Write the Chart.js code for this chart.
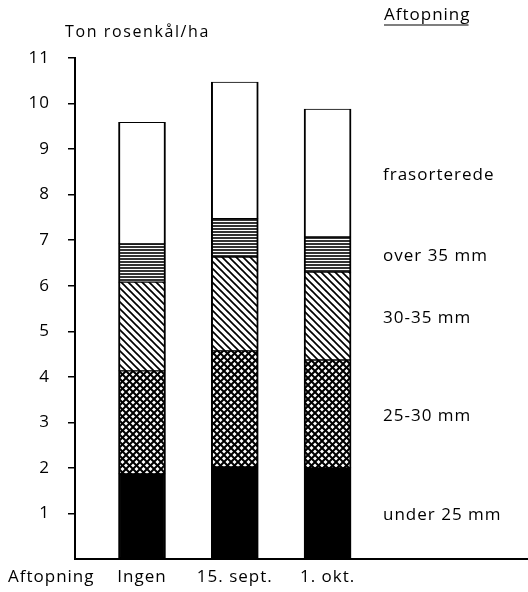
<!DOCTYPE html>
<html>
<head>
<meta charset="utf-8">
<script src="https://cdn.jsdelivr.net/npm/chart.js@4/dist/chart.umd.min.js"></script>
<style>
    html, body { margin: 0; padding: 0; background: #fff; }
    canvas { display: block; }
</style>
</head>
<body>
<canvas id="chart" width="528" height="592"></canvas>
<script>
// Data
const categories = ['Ingen', '15. sept.', '1. okt.'];
const seriesNames = ['under 25 mm', '25-30 mm', '30-35 mm', 'over 35 mm', 'frasorterede'];
const under25 = [1.87, 2.02, 2.00];
const mm25to30 = [2.26, 2.55, 2.37];
const mm30to35 = [1.95, 2.06, 1.93];
const over35 = [0.84, 0.84, 0.77];
const frasorterede = [2.67, 3.00, 2.81];
const yMax = 11;

const FONT = "'Open Sans', 'DejaVu Sans', sans-serif";
const INK = '#000';

function makePattern(kind) {
    const c = document.createElement('canvas');
    const s = kind === 'horiz' ? 3 : 7;
    c.width = s; c.height = s;
    const g = c.getContext('2d');
    g.fillStyle = '#fff';
    g.fillRect(0, 0, s, s);
    g.strokeStyle = INK;
    g.lineCap = 'square';
    if (kind === 'horiz') {
        g.lineWidth = 1.6;
        g.beginPath(); g.moveTo(0, 1); g.lineTo(s, 1); g.stroke();
    } else {
        g.lineWidth = kind === 'cross' ? 2 : 1.7;
        for (const k of [-s, 0, s]) {
            g.beginPath(); g.moveTo(k, 0); g.lineTo(k + s, s); g.stroke();
            if (kind === 'cross') {
                g.beginPath(); g.moveTo(k + s, 0); g.lineTo(k, s); g.stroke();
            }
        }
    }
    return g.createPattern(c, 'repeat');
}

const fills = [INK, makePattern('cross'), makePattern('diag'), makePattern('horiz'), '#fff'];
const seriesValues = [under25, mm25to30, mm30to35, over35, frasorterede];

const datasets = seriesValues.map((vals, i) => ({
    label: seriesNames[i],
    data: vals.map((v, j) => ({ x: j + 1, y: v })),
    backgroundColor: fills[i],
    borderColor: INK,
    borderWidth: { top: 1, bottom: 1, left: 2, right: 2 },
    borderSkipped: false,
    barThickness: 47
}));

// labels on the right, at the middle of each segment of the last bar, plus free texts
const textPlugin = {
    id: 'texts',
    beforeDraw(chart) {
        chart.ctx.letterSpacing = '1px';
    },
    afterDraw(chart) {
        const ctx = chart.ctx;
        const y = chart.scales.y;
        const last = categories.length - 1;
        ctx.save();
        ctx.fillStyle = INK;
        ctx.font = '17px ' + FONT;
        ctx.letterSpacing = '1px';
        ctx.textBaseline = 'middle';
        ctx.textAlign = 'left';
        let cum = 0;
        seriesValues.forEach((vals, i) => {
            const v = vals[last];
            ctx.fillText(seriesNames[i], 383, y.getPixelForValue(cum + v / 2) + 2);
            cum += v;
        });
        // bottom-left axis caption
        ctx.fillText('Aftopning', 8, 577);
        // top-right legend heading, underlined
        ctx.fillText('Aftopning', 384, 15);
        const w = ctx.measureText('Aftopning').width;
        ctx.lineWidth = 1.2;
        ctx.strokeStyle = INK;
        ctx.beginPath(); ctx.moveTo(384, 25); ctx.lineTo(384 + w - 2, 25); ctx.stroke();
        // y axis title
        ctx.font = '16px ' + FONT;
        ctx.letterSpacing = '1.6px';
        ctx.fillText('Ton rosenkål/ha', 65, 32);
        ctx.restore();
    }
};

new Chart(document.getElementById('chart'), {
    type: 'bar',
    data: { datasets: datasets },
    options: {
        responsive: false,
        animation: false,
        layout: { padding: { top: 58, right: 0, left: 0, bottom: 0 } },
        plugins: { legend: { display: false }, tooltip: { enabled: false } },
        scales: {
            x: {
                type: 'linear',
                stacked: true,
                offset: false,
                min: 0.278,
                max: 5.16,
                afterBuildTicks: s => { s.ticks = categories.map((c, i) => ({ value: i + 1 })); },
                afterFit: s => { s.height = 33; },
                ticks: {
                    color: INK,
                    font: { family: FONT, size: 17 },
                    padding: 8,
                    maxRotation: 0,
                    autoSkip: false,
                    callback: v => categories[v - 1] || ''
                },
                grid: { display: true, drawOnChartArea: false, drawTicks: false },
                border: { display: true, color: INK, width: 2 }
            },
            y: {
                stacked: true,
                min: 0,
                max: yMax,
                afterFit: s => { s.width = 75; },
                ticks: {
                    stepSize: 1,
                    color: INK,
                    padding: 18,
                    font: { family: FONT, size: 17 },
                    callback: v => v === 0 ? '' : v
                },
                grid: {
                    drawOnChartArea: false,
                    drawTicks: true,
                    tickLength: 7,
                    lineWidth: 1.5,
                    color: c => c.tick && c.tick.value === 0 ? 'rgba(0,0,0,0)' : INK
                },
                border: { display: true, color: INK, width: 2 }
            }
        }
    },
    plugins: [textPlugin]
});
</script>
</body>
</html>
